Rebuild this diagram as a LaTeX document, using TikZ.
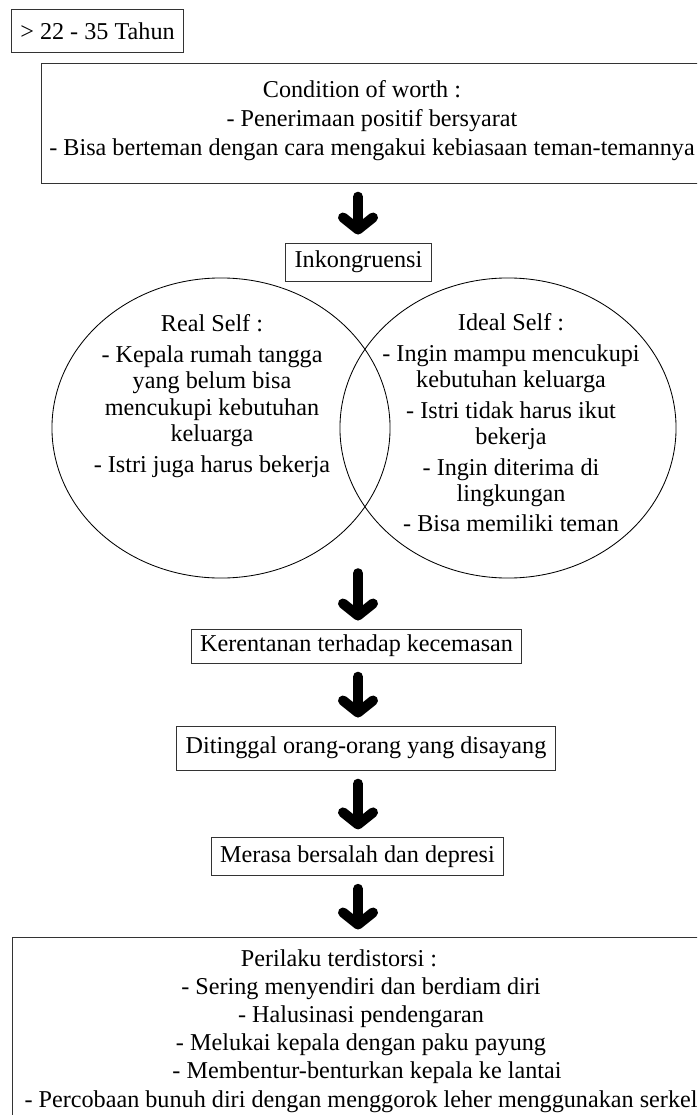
\documentclass[tikz,border=0pt]{standalone}
\usepackage{fontspec}
\setmainfont{Liberation Serif}
\usetikzlibrary{shapes.geometric,arrows.meta}

\tikzstyle{kotak}=[draw=black!80,line width=0.7pt,inner xsep=0.22cm,inner ysep=1pt,minimum height=0.95cm]
\tikzstyle{lingkar}=[ellipse,draw,line width=0.6pt,minimum width=8.45cm,minimum height=7.5cm]
\tikzstyle{teks}=[align=center,inner sep=0pt]
\tikzstyle{isi}=[teks,font=\fontsize{17.2}{18.8}\selectfont]
\tikzstyle{panah}=[line width=0.25cm,line cap=round,-{Straight Barb[length=0.3cm,width=0.75cm,round]},shorten <=0.33cm,shorten >=0.2cm]

\begin{document}
\begin{tikzpicture}[x=0.025cm,y=-0.025cm,font=\fontsize{17.2}{20}\selectfont]
    \useasboundingbox (0,0) rectangle (697,1115);
    \clip (0,0) rectangle (697,1115);
    %Age and conditions
    \node[kotak,minimum height=1.05cm] (usia) at (97.5,31) {> 22 - 35 Tahun};
    \node[kotak,minimum width=16.7cm,minimum height=2.975cm] (syarat) at (376,123.5) {};
    \node[teks,font=\fontsize{17.2}{20.6}\selectfont] (syaratteks) at (372,121)
        {Condition of worth :\hspace*{0.5cm}\\- Penerimaan positif bersyarat\hspace*{0.5cm}\\- Bisa berteman dengan cara mengakui kebiasaan teman-temannya};
    \node[kotak] (inkon) at (358.5,262) {Inkongruensi};
    %Real and ideal self
    \node[lingkar] (real) at (221,428) {};
    \node[lingkar,minimum width=8.4cm] (ideal) at (508,428) {};
    \node[isi] (realteks) at (212,396)
        {Real Self :\\[0.1cm]- Kepala rumah tangga\\yang belum bisa\\mencukupi kebutuhan\\keluarga\\[0.1cm]- Istri juga harus bekerja};
    \node[isi] (idealteks) at (511,423)
        {Ideal Self :\\[0.1cm]- Ingin mampu mencukupi\\kebutuhan keluarga\\[0.1cm]- Istri tidak harus ikut\\bekerja\\[0.1cm]- Ingin diterima di\\lingkungan\\[0.1cm]- Bisa memiliki teman};
    \coordinate (temu) at (358,560);
    %Chain of boxes
    \node[kotak,minimum height=0.85cm] (rentan) at (356.5,646) {Kerentanan terhadap kecemasan};
    \node[kotak,minimum height=1.1cm] (tinggal) at (366,748) {Ditinggal orang-orang yang disayang};
    \node[kotak,minimum height=0.93cm] (salah) at (357.5,856.5) {Merasa bersalah dan depresi};
    \node[kotak,minimum width=17.425cm,minimum height=4.675cm] (distorsi) at (361.5,1031.5) {};
    \node[teks] (distorsiteks) at (361,1031)
        {Perilaku terdistorsi :\hspace*{1.1cm}\\- Sering menyendiri dan berdiam diri\hspace*{1.1cm}\\- Halusinasi pendengaran\hspace*{1.1cm}\\- Melukai kepala dengan paku payung\hspace*{0.75cm}\\\hspace*{0.3cm}- Membentur-benturkan kepala ke lantai\\- Percobaan bunuh diri dengan menggorok leher menggunakan serkel};
    %Arrows
    \draw[panah] (syarat.south -| temu) -- (inkon.north -| temu);
    \draw[panah] (temu) -- (rentan.north -| temu);
    \draw[panah] (rentan.south -| temu) -- (tinggal.north -| temu);
    \draw[panah] (tinggal.south -| temu) -- (salah.north -| temu);
    \draw[panah] (salah.south -| temu) -- (distorsi.north -| temu);
\end{tikzpicture}
\end{document}
